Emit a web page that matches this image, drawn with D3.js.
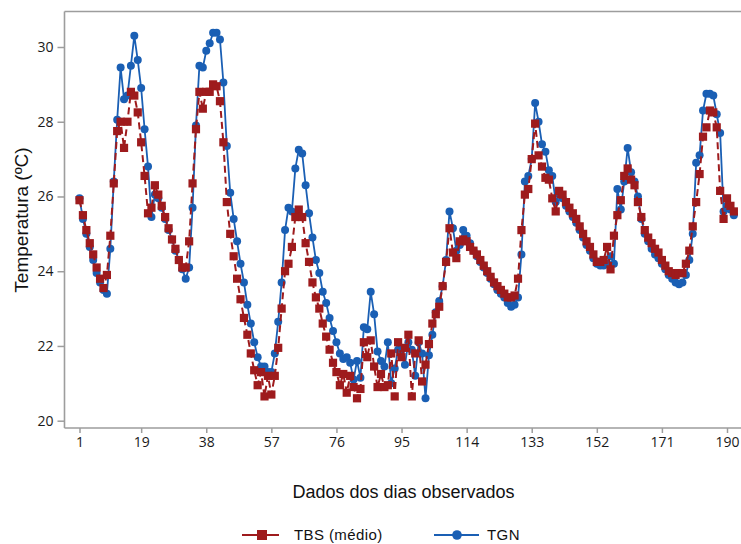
<!DOCTYPE html>
<html>
<head>
<meta charset="utf-8">
<script src="https://cdn.jsdelivr.net/npm/d3@7"></script>
<style>
  html, body { margin: 0; padding: 0; background: #fff; }
  svg { display: block; }
</style>
</head>
<body>
<svg id="chart" width="741" height="544"></svg>
<script>
// ---- data ----
const xTicks = [1, 19, 38, 57, 76, 95, 114, 133, 152, 171, 190];
const yTicks = [20, 22, 24, 26, 28, 30];
const seriesNames = ["TBS (médio)", "TGN"];

const tbs = [
  25.9, 25.5, 25.1, 24.75, 24.45, 24.1, 23.8, 23.55, 23.9, 24.95,
  26.35, 27.75, 28.0, 27.3, 28.0, 28.8, 28.7, 28.25, 27.45, 26.55,
  25.55, 25.7, 26.3, 26.05, 25.75, 25.45, 25.15, 24.85, 24.6, 24.3,
  24.1, 24.1, 24.8, 26.35, 27.8, 28.8, 28.35, 28.8, 28.8, 29.0,
  28.95, 28.55, 27.45, 25.85, 25.0, 24.4, 23.8, 23.25, 22.75, 22.3,
  21.8, 21.35, 20.95, 21.3, 20.65, 21.2, 20.7, 21.2, 21.95, 23.0,
  24.0, 24.2, 24.65, 25.45, 25.65, 25.45, 24.75, 24.25, 23.7, 23.3,
  23.0, 22.6, 22.25, 21.9, 21.55, 21.3, 20.95, 21.25, 20.75, 21.2,
  20.9, 20.6, 20.85, 22.1, 21.7, 22.15, 21.45, 20.9, 21.25, 20.9,
  20.95, 21.8, 20.65, 22.1, 21.7, 21.95, 22.3, 20.65, 21.8, 22.15,
  21.05, 21.5, 22.05, 22.6, 22.85, 23.05, 23.6, 24.25, 25.15, 24.5,
  24.35, 24.8, 24.85, 24.8, 24.65, 24.55, 24.45, 24.3, 24.15, 24.0,
  23.85, 23.7, 23.6, 23.5, 23.4, 23.3, 23.3, 23.35, 23.8, 25.1,
  26.05, 26.2, 27.0, 27.95, 27.1, 26.8, 26.5, 26.45, 25.95, 25.6,
  26.15, 26.05, 25.85, 25.7, 25.55, 25.4, 25.2, 25.0, 24.8, 24.65,
  24.45, 24.25, 24.25, 24.3, 24.65, 24.05, 24.95, 25.5, 25.9, 26.55,
  26.75, 26.45, 26.3, 25.85, 25.45, 25.1, 24.9, 24.75, 24.6, 24.5,
  24.3, 24.15, 24.0, 23.95, 23.9, 23.95, 23.95, 24.2, 24.55, 25.2,
  25.85, 26.6, 27.6, 27.85, 28.3, 28.25, 27.85, 26.15, 25.4, 25.95,
  25.75, 25.6
];

const tgn = [
  25.95, 25.4, 25.0, 24.65, 24.3, 23.95, 23.7, 23.5, 23.4, 24.6,
  26.4, 28.05, 29.45, 28.6, 28.7, 29.5, 30.3, 29.65, 28.9, 27.8,
  26.8, 25.45, 26.05, 25.95, 25.7, 25.4, 25.1, 24.85, 24.55, 24.3,
  24.05, 23.8, 24.1, 25.7, 27.9, 29.5, 29.45, 29.9, 30.1, 30.38,
  30.38, 30.2, 29.05, 27.35, 26.1, 25.4, 24.8, 24.2, 23.7, 23.1,
  22.6, 22.1, 21.7, 21.45, 21.45, 21.3, 21.3, 21.8, 22.65, 23.7,
  25.1, 25.7, 25.6, 26.75, 27.25, 27.15, 26.3, 25.55, 24.9, 24.3,
  23.95, 23.45, 23.15, 22.75, 22.4, 22.1, 21.8, 21.65, 21.7, 21.55,
  21.1, 21.6, 21.15, 22.5, 22.45, 23.45, 22.85, 21.85, 21.6, 21.45,
  22.1, 21.0, 21.4, 21.9, 21.9, 21.5, 22.1, 21.9, 21.2, 22.1,
  21.8, 20.6, 21.75, 22.3, 22.9, 23.2, 23.6, 24.3, 25.6, 25.15,
  24.55, 24.7, 25.1, 24.95, 24.75, 24.55, 24.4, 24.25, 24.1, 23.95,
  23.8, 23.65, 23.5, 23.4, 23.3, 23.15, 23.05, 23.1, 23.3, 24.45,
  26.4, 26.55, 27.0, 28.5, 28.0, 27.4, 27.2, 26.7, 26.55, 25.85,
  26.05, 25.95, 25.75, 25.6, 25.45, 25.3, 25.1, 24.9, 24.7, 24.55,
  24.35, 24.2, 24.15, 24.15, 24.2, 24.4, 24.2, 26.2, 25.65, 26.4,
  27.3, 26.65, 26.4, 26.0, 25.4, 25.0, 24.8, 24.6, 24.45, 24.35,
  24.2, 24.05, 23.9, 23.8, 23.7, 23.65, 23.7, 23.9, 24.3, 25.0,
  26.9, 27.1, 28.3, 28.75, 28.75, 28.7, 28.2, 27.7, 25.6, 25.75,
  25.65, 25.5
];

// ---- layout ----
const svg = d3.select("#chart");
const W = 741, H = 544;
const frameLeft = 64.5, frameTop = 11.5, frameBottom = 428, frameRight = 745;
const red = "#9e1b1d", blue = "#1a5fb4", axisGrey = "#9d9d9d";

svg.append("rect").attr("width", W).attr("height", H).attr("fill", "#fff");

const x = d3.scaleLinear().domain([1, 190]).range([79.5, 727]);
const y = d3.scaleLinear().domain([20, 30]).range([420.7, 47]);

// frame
const frame = svg.append("g").attr("stroke", axisGrey).attr("stroke-width", 1.6).attr("fill", "none");
frame.append("line").attr("x1", frameLeft).attr("x2", frameLeft).attr("y1", frameTop).attr("y2", frameBottom);
frame.append("line").attr("x1", frameLeft).attr("x2", frameRight).attr("y1", frameTop).attr("y2", frameTop);
frame.append("line").attr("x1", frameLeft).attr("x2", frameRight).attr("y1", frameBottom).attr("y2", frameBottom);

// axes
const yAxis = svg.append("g")
  .attr("transform", `translate(${frameLeft},0)`)
  .call(d3.axisLeft(y).tickValues(yTicks).tickSize(7).tickPadding(4).tickFormat(d3.format("d")));
const xAxis = svg.append("g")
  .attr("transform", `translate(0,${frameBottom})`)
  .call(d3.axisBottom(x).tickValues(xTicks).tickSize(5).tickPadding(4).tickFormat(d3.format("d")));
[yAxis, xAxis].forEach(a => {
  a.select(".domain").remove();
  a.selectAll(".tick line").attr("stroke", axisGrey).attr("stroke-width", 1.5);
  a.selectAll(".tick text").attr("fill", "#1a1a1a").style("font-family", "'Open Sans', sans-serif").style("font-size", "14px");
});

// series
const idx = d3.range(tbs.length);
const lineGen = arr => d3.line().x(i => x(i + 1)).y(i => y(arr[i]));

const gBlue = svg.append("g");
gBlue.append("path").datum(idx).attr("d", lineGen(tgn))
  .attr("fill", "none").attr("stroke", blue).attr("stroke-width", 1.8);
gBlue.selectAll("circle").data(idx).join("circle")
  .attr("cx", i => x(i + 1)).attr("cy", i => y(tgn[i])).attr("r", 4).attr("fill", blue);

const gRed = svg.append("g");
gRed.append("path").datum(idx).attr("d", lineGen(tbs))
  .attr("fill", "none").attr("stroke", red).attr("stroke-width", 2).attr("stroke-dasharray", "7,4");
const sq = 8.2;
gRed.selectAll("rect").data(idx).join("rect")
  .attr("x", i => x(i + 1) - sq / 2).attr("y", i => y(tbs[i]) - sq / 2)
  .attr("width", sq).attr("height", sq).attr("fill", red);

// titles
svg.append("text")
  .attr("transform", "translate(28,220) rotate(-90)")
  .attr("text-anchor", "middle")
  .style("font-family", "'Liberation Sans', Arial, sans-serif").style("font-size", "19px")
  .attr("fill", "#111")
  .text("Temperatura (ºC)");

svg.append("text")
  .attr("x", 403.5).attr("y", 498)
  .attr("text-anchor", "middle")
  .style("font-family", "'Liberation Sans', Arial, sans-serif").style("font-size", "18px")
  .attr("fill", "#111")
  .text("Dados dos dias observados");

// legend
const legY = 535;
const leg = svg.append("g");
leg.append("line").attr("x1", 242).attr("x2", 279).attr("y1", legY).attr("y2", legY)
  .attr("stroke", red).attr("stroke-width", 2.2);
leg.append("rect").attr("x", 262 - 5).attr("y", legY - 5).attr("width", 10).attr("height", 10).attr("fill", red);
leg.append("text").attr("x", 294).attr("y", legY + 5)
  .style("font-family", "'Liberation Sans', Arial, sans-serif").style("font-size", "15px")
  .style("letter-spacing", "0.4px")
  .attr("fill", "#111").text(seriesNames[0]);

leg.append("line").attr("x1", 434).attr("x2", 479).attr("y1", legY).attr("y2", legY)
  .attr("stroke", blue).attr("stroke-width", 2.2);
leg.append("circle").attr("cx", 457).attr("cy", legY).attr("r", 4.8).attr("fill", blue);
leg.append("text").attr("x", 487).attr("y", legY + 5)
  .style("font-family", "'Liberation Sans', Arial, sans-serif").style("font-size", "15px")
  .style("letter-spacing", "0.4px")
  .attr("fill", "#111").text(seriesNames[1]);
</script>
</body>
</html>
